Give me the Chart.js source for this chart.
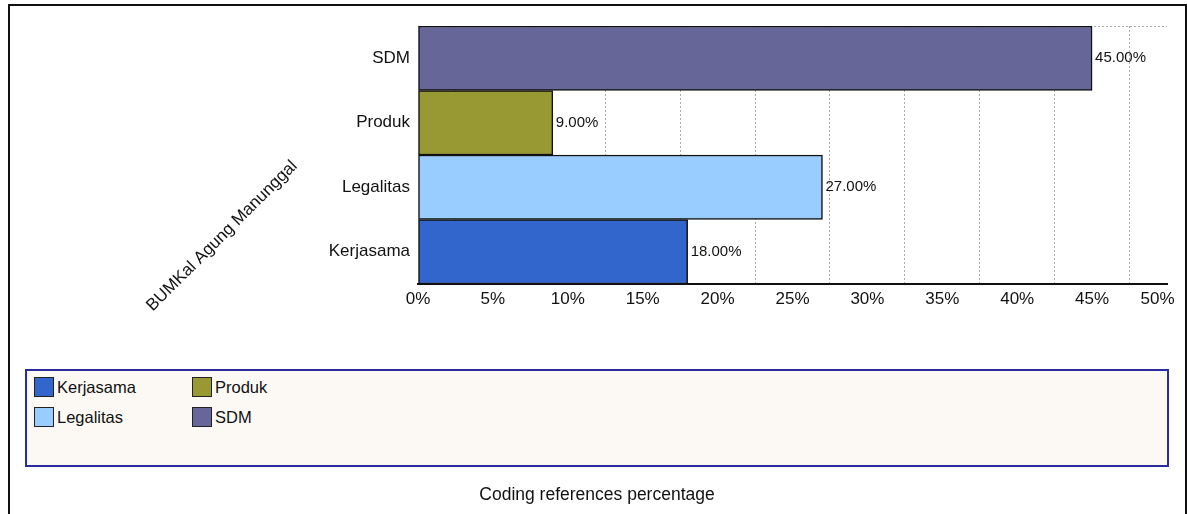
<!DOCTYPE html>
<html>
<head>
<meta charset="utf-8">
<script src="https://cdn.jsdelivr.net/npm/chart.js@4/dist/chart.umd.min.js"></script>
<style>
  body { margin: 0; background: #fff; font-family: "Liberation Sans", Arial, sans-serif; }
  #wrap { position: relative; width: 1187px; height: 514px; overflow: hidden; }
  #frame { position: absolute; left: 8px; top: 4px; width: 1175px; height: 530px; border: 2px solid #111; }
  #chart { position: absolute; left: 0; top: 0; }
  #legend { position: absolute; left: 25px; top: 369px; width: 1140px; height: 94px;
            border: 2px solid #2b2b9c; background: #fcf9f5; }
  .item { position: absolute; font-size: 16.5px; color: #111; line-height: 20px; }
  .sw { position: absolute; left: 0; top: 0; width: 18px; height: 18px; border: 1.5px solid #222; }
  .item span { position: absolute; left: 23px; top: 0; white-space: nowrap; }
  #xtitle { position: absolute; left: 0; width: 1194px; top: 484px; text-align: center; font-size: 17.5px; color: #111; }
</style>
</head>
<body>
<div id="wrap">
  <div id="frame"></div>
  <canvas id="chart" width="1187" height="514"></canvas>
  <div id="legend"></div>
  <div id="xtitle">Coding references percentage</div>
</div>
<script>
// Datos del grafico
const categorias = ['Kerjasama', 'Legalitas', 'Produk', 'SDM'];
const valores = [18, 27, 9, 45];
const colores = ['#3366cc', '#99ccff', '#999933', '#666699'];
const ticksX = [0, 5, 10, 15, 20, 25, 30, 35, 40, 45, 50];
const tituloY = 'BUMKal Agung Manunggal';

const FONT = '"Liberation Sans", Arial, sans-serif';

// Leyenda (2 filas, orden por columnas)
const legend = document.getElementById('legend');
categorias.forEach((c, i) => {
    const col = Math.floor(i / 2);
    const row = i % 2;
    const div = document.createElement('div');
    div.className = 'item';
    div.style.left = (7 + col * 158) + 'px';
    div.style.top = (6 + row * 30) + 'px';
    div.innerHTML = `<div class="sw" style="background:${colores[i]}"></div><span>${c}</span>`;
    legend.appendChild(div);
});

// Etiquetas de valor + linea superior + titulo rotado
const extras = {
    id: 'extras',
    beforeDatasetsDraw(chart) {
        const { ctx, chartArea } = chart;
        ctx.save();
        ctx.strokeStyle = '#aaa';
        ctx.lineWidth = 1;
        ctx.setLineDash([2, 2]);
        ctx.beginPath();
        ctx.moveTo(chartArea.left, chartArea.top + 0.5);
        ctx.lineTo(chartArea.right, chartArea.top + 0.5);
        ctx.stroke();
        ctx.restore();
    },
    afterDatasetsDraw(chart) {
        const { ctx } = chart;
        const meta = chart.getDatasetMeta(0);
        ctx.save();
        ctx.font = '15px ' + FONT;
        ctx.fillStyle = '#111';
        ctx.textAlign = 'left';
        ctx.textBaseline = 'middle';
        meta.data.forEach((bar, i) => {
            ctx.fillText(valores[i].toFixed(2) + '%', bar.x + 3, bar.y);
        });
        ctx.restore();
    },
    afterDraw(chart) {
        const { ctx } = chart;
        ctx.save();
        ctx.translate(222, 236);
        ctx.rotate(-Math.PI / 4);
        ctx.font = '17px ' + FONT;
        ctx.fillStyle = '#111';
        ctx.textAlign = 'center';
        ctx.textBaseline = 'middle';
        ctx.fillText(tituloY, 0, 0);
        ctx.restore();
    }
};

new Chart(document.getElementById('chart'), {
    type: 'bar',
    data: {
        labels: categorias,
        datasets: [{
            data: valores,
            backgroundColor: colores,
            borderColor: '#111',
            borderWidth: 1.5,
            borderSkipped: false,
            barPercentage: 1,
            categoryPercentage: 1
        }]
    },
    options: {
        indexAxis: 'y',
        responsive: false,
        animation: false,
        devicePixelRatio: 1,
        layout: { padding: { top: 26, right: 20, bottom: 204, left: 0 } },
        plugins: {
            legend: { display: false },
            tooltip: { enabled: false }
        },
        scales: {
            x: {
                min: 0,
                max: 50,
                afterBuildTicks: scale => { scale.ticks = ticksX.map(v => ({ value: v })); },
                afterFit: scale => { scale.height = 26; scale.paddingRight = 0; },
                ticks: {
                    // la ultima etiqueta queda un poco hacia dentro, como en el original
                    callback: (v, i) => i === ticksX.length - 1 ? v + '%    ' : v + '%',
                    font: { size: 17, family: FONT },
                    color: '#111',
                    padding: 5,
                    maxRotation: 0
                },
                grid: { offset: true, color: '#aaa', lineWidth: 1, drawTicks: false },
                border: { display: true, color: '#111', width: 2, dash: [2, 2] }
            },
            y: {
                reverse: true,
                afterFit: scale => { scale.width = 418; },
                ticks: {
                    font: { size: 17, family: FONT },
                    color: '#111',
                    padding: 8
                },
                grid: { display: false, drawTicks: false },
                border: { display: false }
            }
        }
    },
    plugins: [extras]
});
</script>
</body>
</html>
